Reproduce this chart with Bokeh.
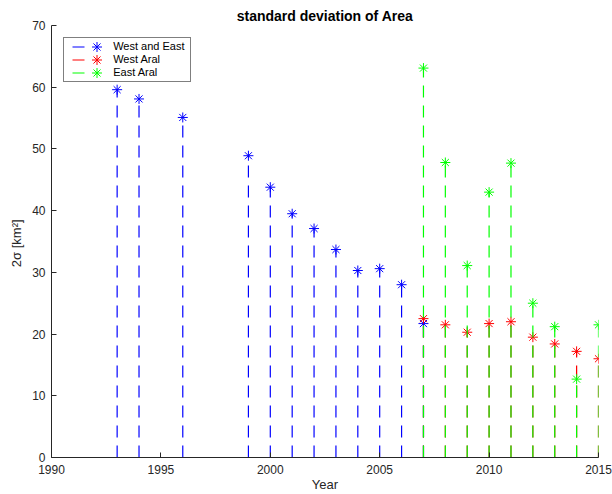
from bokeh.plotting import figure
from bokeh.models import ColumnDataSource, Legend, LegendItem, Range1d, FixedTicker
from bokeh.embed import file_html
from bokeh.resources import INLINE

# ---- data ----
years_we = [1993, 1994, 1996, 1999, 2000, 2001, 2002, 2003, 2004, 2005, 2006, 2007]
sd_we = [59.6, 58.1, 55.1, 48.9, 43.8, 39.5, 37.1, 33.7, 30.3, 30.6, 28.0, 21.7]

years_aral = [2007, 2008, 2009, 2010, 2011, 2012, 2013, 2014, 2015]
sd_west = [22.5, 21.5, 20.3, 21.7, 22.0, 19.5, 18.4, 17.2, 16.0]
sd_east = [63.1, 47.8, 31.1, 43.0, 47.7, 25.0, 21.2, 12.7, 21.5]

x_ticks = [1990, 1995, 2000, 2005, 2010, 2015]
y_ticks = [0, 10, 20, 30, 40, 50, 60, 70]

series = [
    ("West and East", years_we, sd_we, "#0000ff"),
    ("West Aral", years_aral, sd_west, "#ff0000"),
    ("East Aral", years_aral, sd_east, "#00ff00"),
]

FONT = "Liberation Sans"
AX = "#262626"

p = figure(width=612, height=494, output_backend="svg", toolbar_location=None,
           x_range=Range1d(1990, 2015), y_range=Range1d(0, 70),
           title="standard deviation of Area",
           min_border_left=51, min_border_right=14, min_border_top=25, min_border_bottom=37)

p.outline_line_color = None
p.background_fill_color = "white"
p.border_fill_color = "white"
p.xgrid.visible = False
p.ygrid.visible = False

p.title.align = "center"
p.title.text_font = FONT
p.title.text_font_size = "14px"
p.title.text_font_style = "bold"
p.title.text_color = "black"
p.title.standoff = 4

for ax in (p.xaxis[0], p.yaxis[0]):
    ax.axis_line_color = AX
    ax.major_tick_line_color = AX
    ax.major_tick_in = 5
    ax.major_tick_out = 0
    ax.minor_tick_line_color = None
    ax.major_label_text_font = FONT
    ax.major_label_text_font_size = "12px"
    ax.major_label_text_color = AX
    ax.axis_label_text_font = FONT
    ax.axis_label_text_font_size = "13px"
    ax.axis_label_text_font_style = "normal"
    ax.axis_label_text_color = AX

p.xaxis.ticker = FixedTicker(ticks=x_ticks)
p.yaxis.ticker = FixedTicker(ticks=y_ticks)
p.xaxis.axis_label = "Year"
p.yaxis.axis_label = "2σ  [km²]"
p.xaxis.major_label_standoff = 7
p.xaxis.axis_label_standoff = 0
p.yaxis.major_label_standoff = 6
p.yaxis.axis_label_standoff = 5

line_items = []
marker_items = []
for name, xs, ys, color in series:
    src = ColumnDataSource(dict(x=xs, y=ys, y0=[0] * len(ys)))
    p.segment(x0="x", y0="y0", x1="x", y1="y", source=src, line_color=color,
              line_width=1.2, line_dash="12 8")
    sc = p.scatter(x="x", y="y", source=src, marker="asterisk", size=10,
                   line_color=color, line_width=1)
    dummy = p.line(x=[float("nan")], y=[float("nan")], line_color=color,
                   line_width=1.2, line_dash="0 6 12 500")
    line_items.append(LegendItem(label=" ", renderers=[dummy]))
    marker_items.append((name, sc))

# legend box with the line samples
legend_box = Legend(items=line_items, location="top_left", margin=12, padding=2,
                    spacing=0, glyph_width=102, glyph_height=13, label_height=13,
                    label_standoff=0, label_text_font=FONT, label_text_font_size="11px",
                    border_line_color="black", border_line_width=1,
                    background_fill_color="white", background_fill_alpha=1.0)
p.add_layout(legend_box)

# marker samples + labels, one row each
row_centers = [46, 59, 72]
for (name, sc), yc in zip(marker_items, row_centers):
    lg = Legend(items=[LegendItem(label=name, renderers=[sc])],
                location=(33.2, 457 - yc - 12.5), margin=0, padding=0,
                spacing=0, glyph_width=25, glyph_height=25, label_height=25,
                label_standoff=4, label_text_font=FONT, label_text_font_size="11px",
                label_text_color="black",
                border_line_color=None, background_fill_alpha=0.0)
    p.add_layout(lg)

open("out.html", "w").write(file_html(p, INLINE))
